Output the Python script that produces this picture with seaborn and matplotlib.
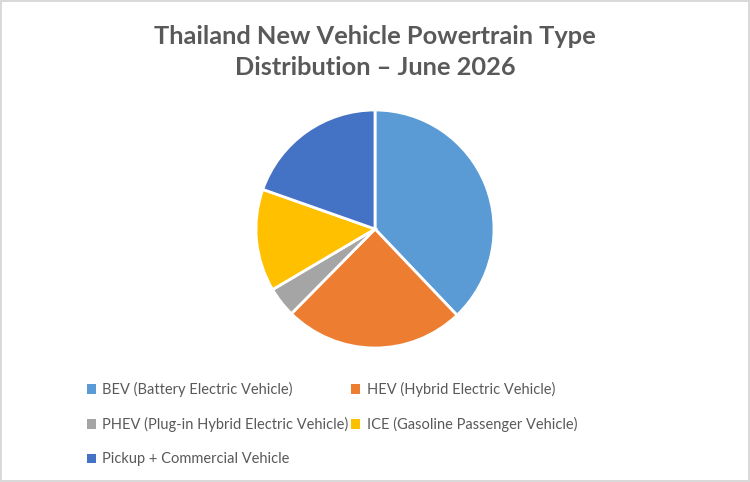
import matplotlib
matplotlib.use("Agg")
import matplotlib.pyplot as plt
from matplotlib.patches import Patch
import seaborn as sns

# --- DATA --- #
categories = [
    "BEV (Battery Electric Vehicle)",
    "HEV (Hybrid Electric Vehicle)",
    "PHEV (Plug-in Hybrid Electric Vehicle)",
    "ICE (Gasoline Passenger Vehicle)",
    "Pickup + Commercial Vehicle",
]
shares = [37.9, 24.5, 4.1, 13.9, 19.6]
colors = ["#5B9BD5", "#ED7D31", "#A5A5A5", "#FFC000", "#4472C4"]
title = "Thailand New Vehicle Powertrain Type\nDistribution \u2013 June 2026"

# --- THEME --- #
sns.set_theme(style="white")
plt.rcParams["font.family"] = ["Lato", "DejaVu Sans"]
text_color = "#595959"

W, H = 750, 482
fig = plt.figure(figsize=(W / 100, H / 100), dpi=100)
fig.patch.set_facecolor("white")
fig.patch.set_edgecolor("#D9D9D9")
fig.patch.set_linewidth(1.5)

# --- PIE --- #
cx, cy, r = 375, 229, 119
ax = fig.add_axes([(cx - r) / W, (H - cy - r) / H, 2 * r / W, 2 * r / H])
wedges, _ = ax.pie(
    shares,
    colors=colors,
    startangle=90,
    counterclock=False,
    radius=1.0,
    wedgeprops=dict(edgecolor="white", linewidth=2),
)
for w in wedges:
    w.set_clip_on(False)
ax.set_xlim(-1, 1)
ax.set_ylim(-1, 1)
ax.set_aspect("equal")
ax.axis("off")

# --- TITLE --- #
fig.text(0.5, 1 - 52 / H, title, ha="center", va="center", fontsize=18.3,
         fontweight="bold", color=text_color, linespacing=1.38)

# --- LEGEND (row-major like Excel) --- #
order = [0, 2, 4, 1, 3]
handles = [Patch(facecolor=colors[i], edgecolor="none") for i in order]
labels = [categories[i] for i in order]
leg = fig.legend(
    handles, labels, ncol=2, loc="upper left",
    bbox_to_anchor=(87 / W, 1 - 382 / H),
    frameon=False, fontsize=10.5, labelcolor=text_color,
    handlelength=0.6, handleheight=0.6, handletextpad=0.45,
    columnspacing=0.2, labelspacing=1.38, borderaxespad=0, borderpad=0,
)

fig.savefig("out.png", dpi=100)
